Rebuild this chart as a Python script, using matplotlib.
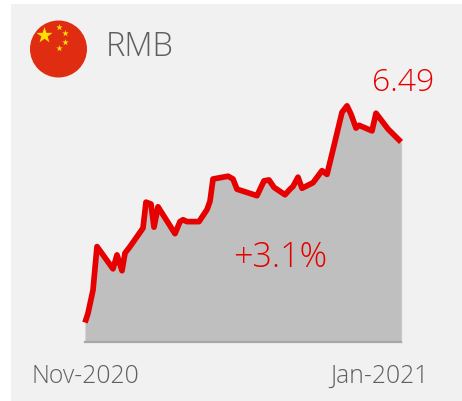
import matplotlib.pyplot as plt
from matplotlib.patches import Rectangle, Circle

plt.rcParams['font.family'] = ['Open Sans', 'DejaVu Sans']

W, H = 462, 402

# day counted from the first point
days = [0, 0.75, 2, 3, 7, 8, 9.25, 10, 11.25, 14.5, 15.25, 16.5, 17.25, 18.25,
        22.5, 23.75, 24.5, 25.5, 28.5, 30.5, 31.25, 32, 35.75, 37, 38,
        43, 44.75, 46, 47.25, 50, 51.25, 52, 53.25, 54.25, 57, 59.25, 60.5,
        62.25, 64.25, 65.5, 66.5, 67.75, 68.5, 71.75, 72.75, 75.75, 79]
rate = [6.295, 6.305, 6.330, 6.377, 6.353, 6.368, 6.351, 6.370, 6.377, 6.397,
        6.425, 6.423, 6.398, 6.420, 6.391, 6.404, 6.406, 6.404, 6.404, 6.417,
        6.426, 6.450, 6.453, 6.450, 6.439, 6.432, 6.448, 6.449, 6.441, 6.433,
        6.439, 6.442, 6.452, 6.440, 6.446, 6.459, 6.455, 6.486, 6.522, 6.529,
        6.520, 6.505, 6.508, 6.502, 6.521, 6.504, 6.490]

title = 'RMB'
last_label = '6.49'
change_label = '+3.1%'
start_label = 'Nov-2020'
end_label = 'Jan-2021'

RED = '#e60000'
GREY = '#5f5f5f'

fig = plt.figure(figsize=(W / 100, H / 100), dpi=100, facecolor='white')

# overlay in pixels, for panel, flag and text
bg = fig.add_axes([0, 0, 1, 1])
bg.set_xlim(0, W)
bg.set_ylim(H, 0)
bg.axis('off')
bg.add_patch(Rectangle((11, 5), W - 11, H - 5, color='#f1f1f1', lw=0))

bg.add_patch(Circle((58.5, 50), 28.5, color='#e02d12', lw=0))
bg.scatter([44], [36], marker='*', s=150, color='#ffe000', lw=0, zorder=3)
bg.scatter([59, 65, 65, 59], [28, 34, 43, 49], marker='*', s=24, color='#ffe000', lw=0, zorder=3)

bg.text(106, 47, title, fontsize=23.5, color=GREY, va='center', ha='left', weight=300)
bg.text(403, 83, last_label, fontsize=23, color=RED, va='center', ha='center', weight=300)
bg.text(85, 376.5, start_label, fontsize=17.8, color=GREY, va='center', ha='center', weight=300)
bg.text(379, 376.5, end_label, fontsize=17.8, color=GREY, va='center', ha='center', weight=300)

# plot area spans x 85-401, y 100-343 in pixels
ax = fig.add_axes([85 / W, (H - 343) / H, 316 / W, 243 / H])
ax.patch.set_alpha(0)
ax.set_xlim(0, 79)
ax.set_ylim(6.274, 6.5364)
ax.axis('off')
ax.fill_between(days, rate, 6.274, color='#bfbfbf', lw=0)
ax.plot(days, rate, color=RED, lw=4.1, solid_joinstyle='round', solid_capstyle='butt', clip_on=False)
ax.axhline(6.274, color='#a8a8a8', lw=1.6, clip_on=False, zorder=1.5)
ax.axvline(79, ymax=0.82, color='#d4d4d4', lw=1, clip_on=False, zorder=0.5)
ax.text(280, 258, change_label, fontsize=24.5, color=RED, va='center', ha='center', weight=300,
        transform=bg.transData)

fig.savefig('out.png', dpi=100)
